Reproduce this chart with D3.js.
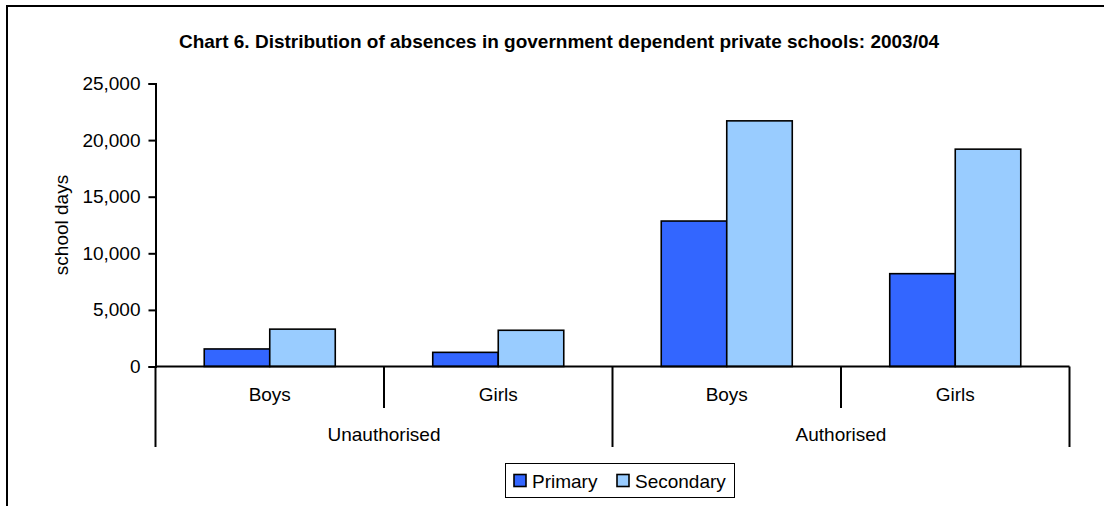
<!DOCTYPE html>
<html>
<head>
<meta charset="utf-8">
<script src="https://cdn.jsdelivr.net/npm/d3@7"></script>
<style>
  html, body { margin: 0; padding: 0; background: #fff; }
  svg { display: block; font-family: "Liberation Sans", Arial, sans-serif; }
</style>
</head>
<body>
<svg id="chart" width="1104" height="506"></svg>
<script>
// ---- data ----
const title = "Chart 6. Distribution of absences in government dependent private schools: 2003/04";
const groups = ["Unauthorised", "Authorised"];
const subgroups = ["Boys", "Girls"];
const series = ["Primary", "Secondary"];
const primary = [1550, 1250, 12850, 8200];
const secondary = [3300, 3200, 21700, 19200];
const yTicks = [0, 5000, 10000, 15000, 20000, 25000];
const yLabel = "school days";
const colors = ["#3366FF", "#99CCFF"];

// ---- layout ----
const svg = d3.select("#chart");
const plotLeft = 155.5, plotRight = 1069.5, plotTop = 83.5, plotBottom = 366.5;
const fs = 19;

const cats = [];
groups.forEach(g => subgroups.forEach(s => cats.push(g + "|" + s)));
const rows = cats.map((c, i) => ({ key: c, values: [primary[i], secondary[i]] }));

const x0 = d3.scaleBand().domain(cats).range([plotLeft, plotRight]).padding(0);
const x1 = d3.scaleBand().domain(series).range([0, x0.bandwidth()]).paddingInner(0).paddingOuter(0.744);
const xg = d3.scaleBand().domain(groups).range([plotLeft, plotRight]).padding(0);
const y = d3.scaleLinear().domain([0, 25000]).range([plotBottom, plotTop]);

// outer border
svg.append("rect").attr("x", 7).attr("y", 6).attr("width", 1200).attr("height", 600)
  .attr("fill", "none").attr("stroke", "#000").attr("stroke-width", 2);

// title
svg.append("text").attr("x", 559).attr("y", 48).attr("text-anchor", "middle")
  .attr("font-size", fs).attr("font-weight", "bold").text(title);

// bars
const gBars = svg.append("g");
rows.forEach(r => {
  gBars.selectAll(null).data(series.map((s, i) => ({ s, v: r.values[i], i })))
    .enter().append("rect")
    .attr("x", d => x0(r.key) + x1(d.s))
    .attr("y", d => y(d.v))
    .attr("width", x1.bandwidth())
    .attr("height", d => y(0) - y(d.v))
    .attr("fill", d => colors[d.i])
    .attr("stroke", "#000").attr("stroke-width", 1.6);
});

// y axis
const yAxis = d3.axisLeft(y).tickValues(yTicks).tickSize(7).tickPadding(8)
  .tickFormat(d3.format(","));
const ga = svg.append("g").attr("transform", `translate(${plotLeft},0)`).call(yAxis);
ga.select(".domain").attr("stroke", "#000").attr("stroke-width", 2);
ga.selectAll(".tick line").attr("stroke", "#000").attr("stroke-width", 2);
ga.selectAll(".tick text").attr("font-size", fs).attr("fill", "#000")
  .attr("font-family", "Liberation Sans, Arial, sans-serif");

// y label
svg.append("text").attr("transform", `translate(68,225) rotate(-90)`)
  .attr("text-anchor", "middle").attr("font-size", fs).text(yLabel);

// x baseline
svg.append("line").attr("x1", plotLeft).attr("x2", plotRight).attr("y1", y(0)).attr("y2", y(0))
  .attr("stroke", "#000").attr("stroke-width", 2);

// subgroup dividers (short) and group dividers (long)
const subBounds = cats.map(c => x0(c)).concat([plotRight]);
const groupBounds = groups.map(g => xg(g)).concat([plotRight]);
svg.selectAll(null).data(subBounds.filter(b => !groupBounds.some(gb => Math.abs(gb - b) < 1)))
  .enter().append("line")
  .attr("x1", d => d).attr("x2", d => d).attr("y1", y(0)).attr("y2", 408)
  .attr("stroke", "#000").attr("stroke-width", 2);
svg.selectAll(null).data(groupBounds).enter().append("line")
  .attr("x1", d => d).attr("x2", d => d).attr("y1", y(0)).attr("y2", 447)
  .attr("stroke", "#000").attr("stroke-width", 2);

// subgroup labels
svg.selectAll(null).data(cats).enter().append("text")
  .attr("x", d => x0(d) + x0.bandwidth() / 2).attr("y", 401)
  .attr("text-anchor", "middle").attr("font-size", fs)
  .text(d => d.split("|")[1]);

// group labels
svg.selectAll(null).data(groups).enter().append("text")
  .attr("x", d => xg(d) + xg.bandwidth() / 2).attr("y", 441)
  .attr("text-anchor", "middle").attr("font-size", fs)
  .text(d => d);

// legend
const lg = svg.append("g");
lg.append("rect").attr("x", 505.5).attr("y", 463.5).attr("width", 229).attr("height", 34)
  .attr("fill", "#fff").attr("stroke", "#000").attr("stroke-width", 1);
const legX = [514, 617];
series.forEach((s, i) => {
  lg.append("rect").attr("x", legX[i]).attr("y", 474.5).attr("width", 12).attr("height", 12)
    .attr("fill", colors[i]).attr("stroke", "#000").attr("stroke-width", 1.6);
  lg.append("text").attr("x", legX[i] + 18).attr("y", 488).attr("font-size", fs).text(s);
});
</script>
</body>
</html>
